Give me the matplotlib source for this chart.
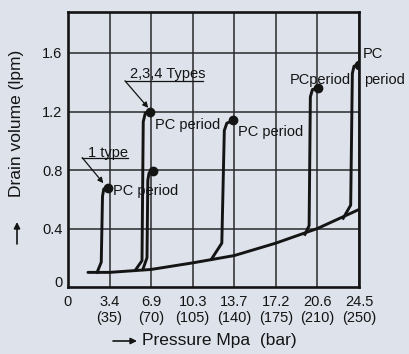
import numpy as np
import matplotlib
matplotlib.use('Agg')
import matplotlib.pyplot as plt

plt.rcParams['font.family']=['Liberation Sans','DejaVu Sans']

# x axis: equally spaced pressure steps
xpos=[0,1,2,3,4,5,6,7]
xmpa=['0','3.4','6.9','10.3','13.7','17.2','20.6','24.5']
xbar=['','(35)','(70)','(105)','(140)','(175)','(210)','(250)']
yticks=[0.4,0.8,1.2,1.6]
ylabs=['0.4','0.8','1.2','1.6']

# base drain curve
base_x=[0.48,1.0,2.0,3.0,4.0,5.0,6.0,7.0]
base_y=[0.10,0.10,0.12,0.165,0.215,0.30,0.40,0.53]

# PC period curves (rise from base to the marked point)
pc1_x=[0.70,0.80,0.83,0.86,0.96]; pc1_y=[0.10,0.17,0.62,0.67,0.68]
pc2_x=[1.62,1.78,1.81,1.86,1.98]; pc2_y=[0.115,0.18,1.13,1.19,1.20]
pc3_x=[1.80,1.90,1.92,1.95,2.04]; pc3_y=[0.12,0.20,0.73,0.78,0.79]
pc4_x=[3.45,3.70,3.76,3.82,3.98]; pc4_y=[0.19,0.30,1.07,1.12,1.14]
pc5_x=[5.70,5.80,5.83,5.88,6.02]; pc5_y=[0.36,0.42,1.30,1.35,1.36]
pc6_x=[6.62,6.80,6.84,6.88,6.99]; pc6_y=[0.47,0.56,1.46,1.51,1.52]
curves=[(pc1_x,pc1_y),(pc2_x,pc2_y),(pc3_x,pc3_y),(pc4_x,pc4_y),(pc5_x,pc5_y),(pc6_x,pc6_y)]

bg='#dde2eb'
ink='#141414'

fig=plt.figure(figsize=(4.10,3.54),dpi=100,facecolor=bg)
ax=fig.add_axes([68/410.,1-287/354.,291/410.,275/354.])
ax.set_facecolor(bg)
ax.set_xlim(0,7)
ax.set_ylim(0,275/146.25)

ax.set_xticks(xpos)
ax.set_xticklabels([a+('\n'+b if b else '') for a,b in zip(xmpa,xbar)],va='top',fontsize=10.5,color=ink,linespacing=1.15)
ax.set_yticks(yticks)
ax.set_yticklabels(ylabs,fontsize=10.5,color=ink)
ax.tick_params(length=0,pad=4)
ax.tick_params(axis='x',pad=6)
ax.grid(True,color='#2a2a2a',lw=1.1)
ax.set_axisbelow(True)
for s in ax.spines.values():
	s.set_linewidth(1.9)
	s.set_color(ink)
ax.text(-0.24,0.03,'0',ha='center',va='center',fontsize=10.5,color=ink,clip_on=False)

ax.plot(base_x,base_y,color=ink,lw=2.1,solid_capstyle='round',zorder=3)
for cx,cy in curves:
	ax.plot(cx,cy,color=ink,lw=2.1,solid_joinstyle='round',zorder=3)
	ax.plot(cx[-1],cy[-1],'o',color=ink,ms=6,zorder=4)

fs=10.5
# leaders
ax.text(0.48,0.89,'1 type',fontsize=fs,color=ink,va='baseline')
ax.plot([0.34,1.44],[0.885,0.885],color=ink,lw=0.9)
ax.annotate('',xy=(0.85,0.71),xytext=(0.34,0.885),arrowprops=dict(arrowstyle='-|>',color=ink,lw=0.9,mutation_scale=8,shrinkA=0,shrinkB=0))
ax.text(1.49,1.43,'2,3,4 Types',fontsize=fs,color=ink,va='baseline')
ax.plot([1.37,3.25],[1.41,1.41],color=ink,lw=0.9)
ax.annotate('',xy=(1.93,1.225),xytext=(1.37,1.41),arrowprops=dict(arrowstyle='-|>',color=ink,lw=0.9,mutation_scale=8,shrinkA=0,shrinkB=0))

ax.text(1.08,0.655,'PC period',fontsize=fs,color=ink,va='center')
ax.text(2.09,1.11,'PC period',fontsize=fs,color=ink,va='center')
ax.text(4.09,1.06,'PC period',fontsize=fs,color=ink,va='center')
ax.text(5.34,1.415,'PCperiod',fontsize=fs,color=ink,va='center')
ax.text(7.10,1.59,'PC',fontsize=fs,color=ink,va='center',clip_on=False)
ax.text(7.12,1.415,'period',fontsize=fs,color=ink,va='center',clip_on=False)

# axis labels with arrows
fig.text(17/410.,1-123/354.,'Drain volume (lpm)',rotation=90,ha='center',va='center',fontsize=12.5,color=ink)
fig.patches
ax.annotate('',xy=(17,354-222),xytext=(17,354-244),xycoords='figure pixels',textcoords='figure pixels',
	arrowprops=dict(arrowstyle='-|>',color=ink,lw=1.2,mutation_scale=9,shrinkA=0,shrinkB=0))
ax.annotate('',xy=(137,354-341),xytext=(113,354-341),xycoords='figure pixels',textcoords='figure pixels',
	arrowprops=dict(arrowstyle='-|>',color=ink,lw=1.2,mutation_scale=9,shrinkA=0,shrinkB=0))
fig.text(142/410.,1-341/354.,'Pressure Mpa  (bar)',ha='left',va='center',fontsize=12.5,color=ink)

fig.savefig('out.png',dpi=100,facecolor=bg)
